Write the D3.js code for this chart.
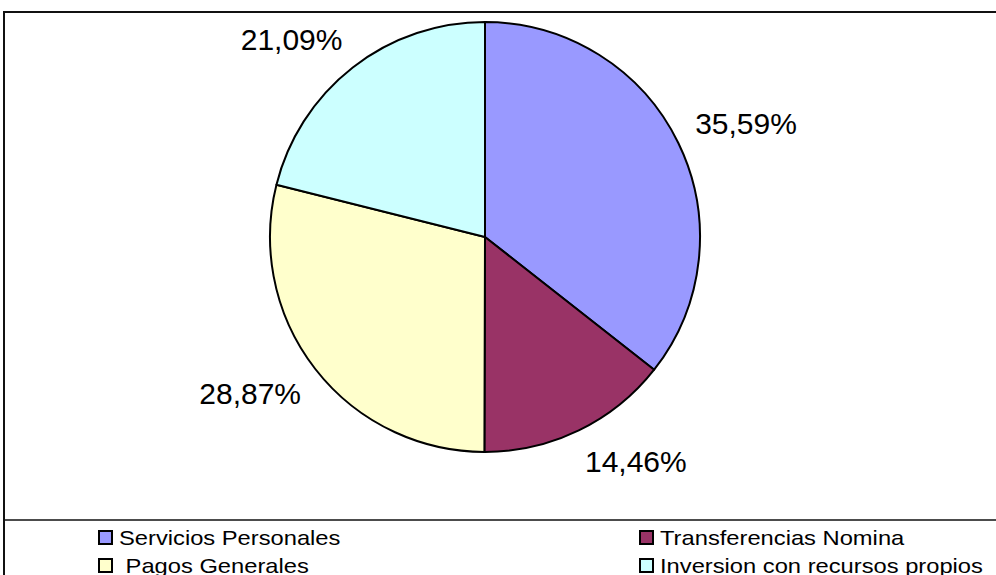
<!DOCTYPE html>
<html>
<head>
<meta charset="utf-8">
<script src="https://cdnjs.cloudflare.com/ajax/libs/d3/7.8.5/d3.min.js"></script>
<style>
  html, body { margin: 0; padding: 0; background: #fff; }
  svg { display: block; font-family: "Liberation Sans", Arial, sans-serif; }
</style>
</head>
<body>
<svg id="chart" width="996" height="575"></svg>
<script>
// categories and their shares (percent)
var categories = ["Servicios Personales", "Transferencias Nomina", "Pagos Generales", "Inversion con recursos propios"];
var values = [35.59, 14.46, 28.87, 21.09];
var labels = ["35,59%", "14,46%", "28,87%", "21,09%"];
var colors = ["#9999ff", "#993366", "#ffffcc", "#ccffff"];
// legend text as shown (two columns, two rows)
var legendText = ["Servicios Personales", "Transferencias Nomina", " Pagos Generales", "Inversion con recursos propios"];

var svg = d3.select("#chart");

// outer frame and legend separator
svg.append("rect")
  .attr("x", 4).attr("y", 12)
  .attr("width", 1000).attr("height", 600)
  .attr("fill", "none")
  .attr("stroke", "#111")
  .attr("stroke-width", 2);

svg.append("line")
  .attr("x1", 4).attr("x2", 996)
  .attr("y1", 520).attr("y2", 520)
  .attr("stroke", "#111")
  .attr("stroke-width", 1.5);

var cx = 485, cy = 237, radius = 215;

var pie = d3.pie().sort(null).value(function(d) { return d; });
var arcs = pie(values);

var arc = d3.arc().innerRadius(0).outerRadius(radius);

var g = svg.append("g").attr("transform", "translate(" + cx + "," + cy + ")");

g.selectAll("path.slice")
  .data(arcs)
  .enter().append("path")
  .attr("class", "slice")
  .attr("d", arc)
  .attr("fill", function(d, i) { return colors[i]; })
  .attr("stroke", "#000")
  .attr("stroke-width", 2)
  .attr("stroke-linejoin", "round");

// labels sit outside the pie, pushed away by half the box size
var labelR = 238;
g.selectAll("text.lbl")
  .data(arcs)
  .enter().append("text")
  .attr("class", "lbl")
  .attr("transform", function(d) {
    var a = (d.startAngle + d.endAngle) / 2;
    var s = Math.sin(a), c = Math.cos(a);
    var x = labelR * s + (s >= 0 ? 47 : -47);
    var y = -labelR * c + (c >= 0 ? -10 : 10);
    return "translate(" + x + "," + y + ")";
  })
  .attr("text-anchor", "middle")
  .attr("dy", "0.36em")
  .style("font-size", "30px")
  .style("fill", "#000")
  .text(function(d, i) { return labels[i]; });

// legend
var colX = [98, 639];
var rowY = [530, 558];
var legend = svg.append("g");

values.forEach(function(v, k) {
  var col = k % 2, row = Math.floor(k / 2);
  var item = legend.append("g")
    .attr("transform", "translate(" + colX[col] + "," + rowY[row] + ")");
  item.append("rect")
    .attr("x", 1).attr("y", 1)
    .attr("width", 13).attr("height", 13)
    .attr("fill", colors[k])
    .attr("stroke", "#000")
    .attr("stroke-width", 2);
  item.append("text")
    .attr("transform", "translate(21,15) scale(1.13,1)")
    .style("font-size", "21px")
    .style("fill", "#000")
    .style("white-space", "pre")
    .text(legendText[k]);
});
</script>
</body>
</html>
